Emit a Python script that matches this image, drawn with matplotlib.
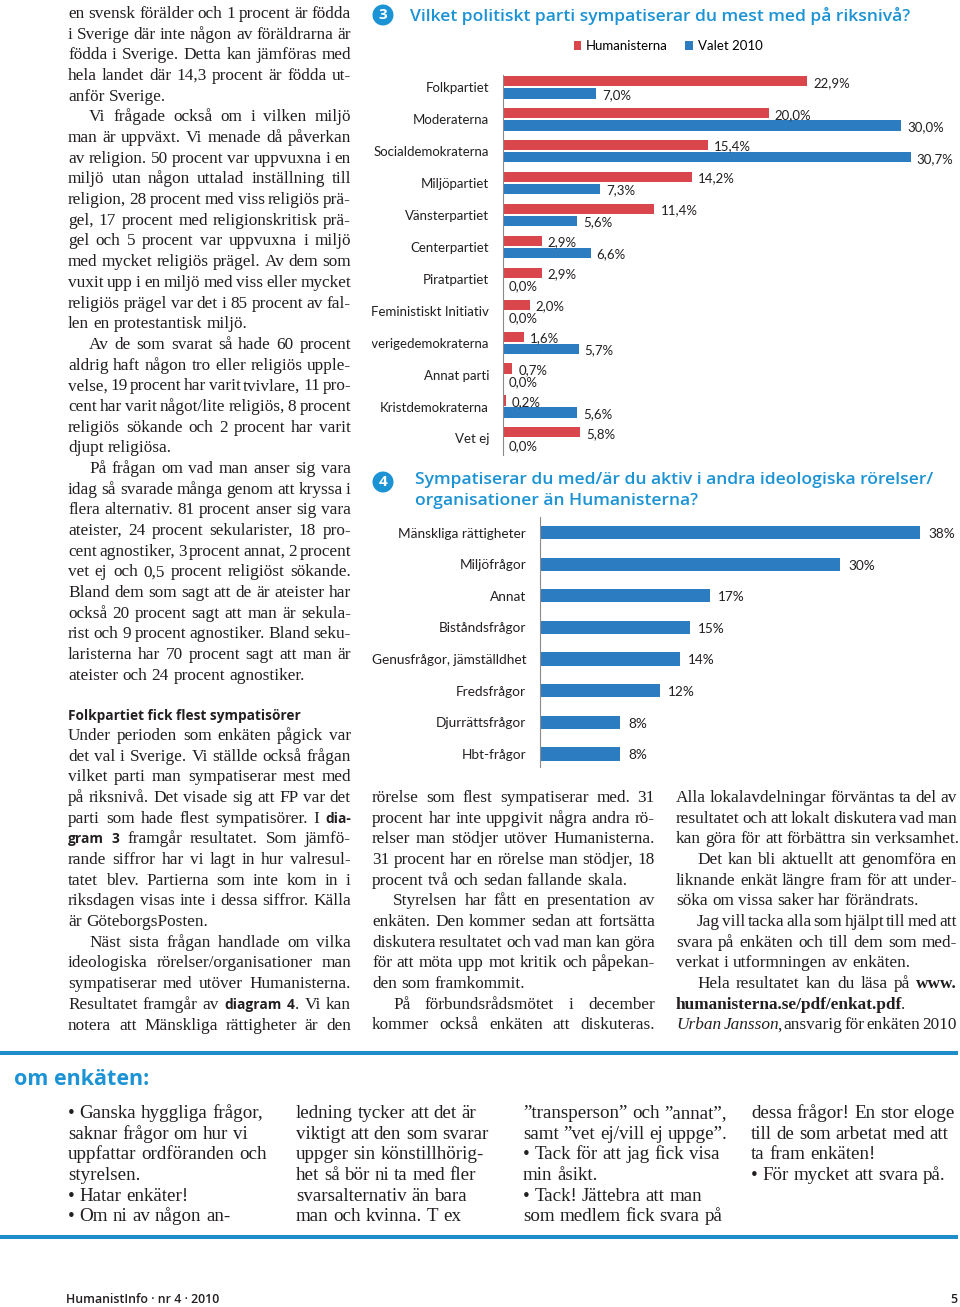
import re
import numpy as np
import matplotlib
matplotlib.use("Agg")
import matplotlib.pyplot as plt
from matplotlib.transforms import IdentityTransform, Bbox, TransformedBbox
from matplotlib.patches import Circle, Rectangle

# ---------------- data ----------------
parties = ["Folkpartiet", "Moderaterna", "Socialdemokraterna", "Miljöpartiet",
           "Vänsterpartiet", "Centerpartiet", "Piratpartiet", "Feministiskt Initiativ",
           "Sverigedemokraterna", "Annat parti", "Kristdemokraterna", "Vet ej"]
humanisterna = [22.9, 20.0, 15.4, 14.2, 11.4, 2.9, 2.9, 2.0, 1.6, 0.7, 0.2, 5.8]
valet_2010 = [7.0, 30.0, 30.7, 7.3, 5.6, 6.6, 0.0, 0.0, 5.7, 0.0, 5.6, 0.0]
series_names = ["Humanisterna", "Valet 2010"]

movements = ["Mänskliga rättigheter", "Miljöfrågor", "Annat", "Biståndsfrågor",
             "Genusfrågor, jämställdhet", "Fredsfrågor", "Djurrättsfrågor", "Hbt-frågor"]
movement_pct = [38, 30, 17, 15, 14, 12, 8, 8]

title3 = "Vilket politiskt parti sympatiserar du mest med på riksnivå?"
title4 = ["Sympatiserar du med/är du aktiv i andra ideologiska rörelser/",
          "organisationer än Humanisterna?"]

# body text: ">" = indented first line, "|" = last line of paragraph
col_left_1 = [
    "en svensk förälder och 1 procent är födda",
    "i Sverige där inte någon av föräldrarna är",
    "födda i Sverige. Detta kan jämföras med",
    "hela landet där 14,3 procent är födda ut-",
    "anför Sverige.|",
    ">Vi frågade också om i vilken miljö",
    "man är uppväxt. Vi menade då påverkan",
    "av religion. 50 procent var uppvuxna i en",
    "miljö utan någon uttalad inställning till",
    "religion, 28 procent med viss religiös prä-",
    "gel, 17 procent med religionskritisk prä-",
    "gel och 5 procent var uppvuxna i miljö",
    "med mycket religiös prägel. Av dem som",
    "vuxit upp i en miljö med viss eller mycket",
    "religiös prägel var det i 85 procent av fal-",
    "len en protestantisk miljö.|",
    ">Av de som svarat så hade 60 procent",
    "aldrig haft någon tro eller religiös upple-",
    "velse, 19 procent har varit tvivlare, 11 pro-",
    "cent har varit något/lite religiös, 8 procent",
    "religiös sökande och 2 procent har varit",
    "djupt religiösa.|",
    ">På frågan om vad man anser sig vara",
    "idag så svarade många genom att kryssa i",
    "flera alternativ. 81 procent anser sig vara",
    "ateister, 24 procent sekularister, 18 pro-",
    "cent agnostiker, 3 procent annat, 2 procent",
    "vet ej och 0,5 procent religiöst sökande.",
    "Bland dem som sagt att de är ateister har",
    "också 20 procent sagt att man är sekula-",
    "rist och 9 procent agnostiker. Bland seku-",
    "laristerna har 70 procent sagt att man är",
    "ateister och 24 procent agnostiker.|",
]
subhead = "Folkpartiet fick flest sympatisörer"
col_left_2 = [
    "Under perioden som enkäten pågick var",
    "det val i Sverige. Vi ställde också frågan",
    "vilket parti man sympatiserar mest med",
    "på riksnivå. Det visade sig att FP var det",
    "parti som hade flest sympatisörer. I **dia-**",
    "**gram** **3** framgår resultatet. Som jämfö-",
    "rande siffror har vi lagt in hur valresul-",
    "tatet blev. Partierna som inte kom in i",
    "riksdagen visas inte i dessa siffror. Källa",
    "är GöteborgsPosten.|",
    ">Näst sista frågan handlade om vilka",
    "ideologiska rörelser/organisationer man",
    "sympatiserar med utöver Humanisterna.",
    "Resultatet framgår av **diagram** **4**. Vi kan",
    "notera att Mänskliga rättigheter är den",
]
col_mid = [
    "rörelse som flest sympatiserar med. 31",
    "procent har inte uppgivit några andra rö-",
    "relser man stödjer utöver Humanisterna.",
    "31 procent har en rörelse man stödjer, 18",
    "procent två och sedan fallande skala.|",
    ">Styrelsen har fått en presentation av",
    "enkäten. Den kommer sedan att fortsätta",
    "diskutera resultatet och vad man kan göra",
    "för att möta upp mot kritik och påpekan-",
    "den som framkommit.|",
    ">På förbundsrådsmötet i december",
    "kommer också enkäten att diskuteras.",
]
col_right = [
    "Alla lokalavdelningar förväntas ta del av",
    "resultatet och att lokalt diskutera vad man",
    "kan göra för att förbättra sin verksamhet.|",
    ">Det kan bli aktuellt att genomföra en",
    "liknande enkät längre fram för att under-",
    "söka om vissa saker har förändrats.|",
    ">Jag vill tacka alla som hjälpt till med att",
    "svara på enkäten och till dem som med-",
    "verkat i utformningen av enkäten.|",
    ">Hela resultatet kan du läsa på ##www.##",
    "##humanisterna.se/pdf/enkat.pdf##.|",
    "__Urban__ __Jansson__, ansvarig för enkäten 2010",
]
box_heading = "om enkäten:"
box_cols = [
    ["• Ganska hyggliga frågor,", "saknar frågor om hur vi", "uppfattar ordföranden och",
     "styrelsen.", "• Hatar enkäter!", "• Om ni av någon an-"],
    ["ledning tycker att det är", "viktigt att den som svarar", "uppger sin könstillhörig-",
     "het så bör ni ta med fler", "svarsalternativ än bara", "man och kvinna. T ex"],
    ["\u201dtransperson\u201d och \u201dannat\u201d,", "samt \u201dvet ej/vill ej uppge\u201d.",
     "• Tack för att jag fick visa", "min åsikt.", "• Tack! Jättebra att man",
     "som medlem fick svara på"],
    ["dessa frågor! En stor eloge", "till de som arbetat med att", "ta fram enkäten!",
     "• För mycket att svara på."],
]
footer_left = "HumanistInfo · nr 4 · 2010"
footer_right = "5"

# ---------------- style ----------------
W, H = 960, 1307
BLUE = "#2b7cc1"
RED = "#d9474c"
TITLE_BLUE = "#1b93d4"
RULE = "#1f8dcc"
INK = "#231f20"
SERIF = "Liberation Serif"
SANS = "Lato"
HEAD = "Open Sans"
BODY_SIZE = 12.4
LABEL_SIZE = 9.5

fig = plt.figure(figsize=(W / 100, H / 100), dpi=100)
fig.patch.set_facecolor("white")
renderer = fig.canvas.get_renderer()
ID = IdentityTransform()


def px_rect(x0, y0, x1, y1):
    return [x0 / W, 1 - y1 / H, (x1 - x0) / W, (y1 - y0) / H]


STYLES = {
    "r": dict(family=SERIF, size=BODY_SIZE),
    "b": dict(family=HEAD, size=9.9, weight="bold"),
    "B": dict(family=SERIF, size=BODY_SIZE, weight="bold"),
    "i": dict(family=SERIF, size=BODY_SIZE, style="italic"),
}
JOIN_TRIM = {"r": 0.0, "b": -0.5, "B": 1.0, "i": 2.0}
TOKEN = re.compile(r"\*\*(.+?)\*\*|##(.+?)##|__(.+?)__|([^*#_]+)")


def segments(word):
    out = []
    for m in TOKEN.finditer(word):
        if m.group(1):
            out.append((m.group(1), "b"))
        elif m.group(2):
            out.append((m.group(2), "B"))
        elif m.group(3):
            out.append((m.group(3), "i"))
        else:
            out.append((m.group(4), "r"))
    return out


def twidth(t):
    return t.get_window_extent(renderer).width


def space_width(size, family=SERIF):
    a = fig.text(0, 0, "n n", transform=ID, family=family, size=size)
    b = fig.text(0, 0, "nn", transform=ID, family=family, size=size)
    w = twidth(a) - twidth(b)
    a.remove(); b.remove()
    return w


def draw_line(line, x0, x1, ybase, justify, size=BODY_SIZE, family=SERIF, color=INK):
    words = line.split()
    items = []
    for w in words:
        arts, ws = [], []
        segs = segments(w)
        for j, (s, k) in enumerate(segs):
            st = dict(STYLES[k])
            if k != "b":
                st["size"] = size
                st["family"] = family
            a = fig.text(0, H - ybase, s, transform=ID, va="baseline", ha="left",
                         color=color, **st)
            arts.append(a)
            wd = twidth(a)
            if j < len(segs) - 1:
                wd -= JOIN_TRIM[k]
            ws.append(wd)
        items.append((arts, ws))
    natural = space_width(size, family)
    total = sum(sum(ws) for _, ws in items)
    if justify and len(items) > 1:
        gap = (x1 - x0 - total) / (len(items) - 1)
    else:
        gap = natural
    x = x0
    for arts, ws in items:
        for a, w in zip(arts, ws):
            a.set_position((x, H - ybase))
            x += w
        x += gap


def draw_column(lines, x0, x1, ytop, step=20.68, indent=21, justify=True, size=BODY_SIZE):
    for i, raw in enumerate(lines):
        s = raw
        ind = 0
        if s.startswith(">"):
            s = s[1:]
            ind = indent
        end = s.endswith("|")
        if end:
            s = s[:-1]
        draw_line(s, x0 + ind, x1, ytop + i * step, justify and not end, size=size)


# ---------------- body text ----------------
draw_column(col_left_1, 68, 351, 18)
fig.text(68, H - 720, subhead, transform=ID, family=HEAD, weight="bold", size=9.8,
         color=INK, va="baseline")
draw_column(col_left_2, 68, 351, 740)
draw_column(col_mid, 372, 655, 802)
draw_column(col_right, 676, 957, 802)

# ---------------- chart 3 ----------------
for cx, cy, num in [(383, 15, "3"), (383, 482, "4")]:
    fig.add_artist(Circle((cx, H - cy), 10.5, transform=ID, facecolor=TITLE_BLUE,
                          edgecolor="none"))
    fig.text(cx, H - cy, num, transform=ID, ha="center", va="center", color="white",
             family=HEAD, weight="bold", size=11)
fig.text(410, H - 21, title3, transform=ID, family=HEAD, weight="semibold",
         size=12.6, color=TITLE_BLUE, va="baseline")

ax3 = fig.add_axes(px_rect(503, 75, 503 + 13.28 * 32, 455))
y = np.arange(len(parties))
off, bh = 0.19, 0.32
b1 = ax3.barh(y - off, humanisterna, height=bh, color=RED, label=series_names[0])
b2 = ax3.barh(y + off, valet_2010, height=bh, color=BLUE, label=series_names[1])
ax3.set_xlim(0, 32)
ax3.set_ylim(11.52, -0.39)
ax3.set_xticks([])
ax3.set_yticks(y, parties)
ax3.tick_params(axis="y", length=0, pad=10, labelsize=LABEL_SIZE, labelcolor=INK)
for lab in ax3.get_yticklabels():
    lab.set_family(SANS)
for sp in ["top", "right", "bottom"]:
    ax3.spines[sp].set_visible(False)
ax3.spines["left"].set_color("#8c8c8c")
ax3.spines["left"].set_linewidth(0.8)
ax3.patch.set_alpha(0)
for vals, dy in [(humanisterna, -off), (valet_2010, off)]:
    for i, v in enumerate(vals):
        ax3.annotate(f"{v:.1f}%".replace(".", ","), (v, i + dy), xytext=(4.3, -1),
                     textcoords="offset points", va="center", ha="left",
                     family=SANS, size=LABEL_SIZE, color=INK, annotation_clip=False)
clip = TransformedBbox(Bbox.from_extents(372 / W, 0, 1, 1), fig.transFigure)
for lab in ax3.get_yticklabels():
    lab.set_clip_box(clip)
    lab.set_clip_on(True)
fig.legend(handles=[b1, b2], labels=series_names, loc="center",
           bbox_to_anchor=(668 / W, 1 - 46 / H), bbox_transform=fig.transFigure,
           ncol=2, frameon=False, handlelength=0.6, handleheight=0.6,
           handletextpad=0.35, columnspacing=1.3, prop=dict(family=SANS, size=LABEL_SIZE))

# ---------------- chart 4 ----------------
for i, t in enumerate(title4):
    fig.text(415, H - (484 + i * 21), t, transform=ID, family=HEAD, weight="semibold",
             size=12.6, color=TITLE_BLUE, va="baseline")
ax4 = fig.add_axes(px_rect(540, 517, 940, 767))
y4 = np.arange(len(movements))
ax4.barh(y4, movement_pct, height=0.42, color=BLUE)
ax4.set_xlim(0, 40)
ax4.set_ylim(7.41, -0.49)
ax4.set_xticks([])
ax4.set_yticks(y4, movements)
ax4.tick_params(axis="y", length=0, pad=10, labelsize=LABEL_SIZE + 0.3, labelcolor=INK)
for lab in ax4.get_yticklabels():
    lab.set_family(SANS)
for sp in ["top", "right", "bottom"]:
    ax4.spines[sp].set_visible(False)
ax4.spines["left"].set_color("#8c8c8c")
ax4.spines["left"].set_linewidth(0.8)
ax4.patch.set_alpha(0)
for i, v in enumerate(movement_pct):
    ax4.annotate(f"{v}%", (v, i), xytext=(5.8, -1), textcoords="offset points",
                 va="center", ha="left", family=SANS, size=LABEL_SIZE + 0.3, color=INK)

# ---------------- bottom box ----------------
for yy in (1053, 1237):
    fig.add_artist(Rectangle((0, H - yy - 2), 958, 4, transform=ID, facecolor=RULE,
                             edgecolor="none"))
fig.text(14, H - 1085, box_heading, transform=ID, family=HEAD, weight="bold",
         size=15.5, color=TITLE_BLUE, va="baseline")
for cx, lines in zip([68, 296, 523, 751], box_cols):
    draw_column(lines, cx, cx + 220, 1118, justify=False, size=13.7)

fig.text(66, H - 1303, footer_left, transform=ID, family=HEAD, weight="semibold",
         size=8.9, color=INK, va="baseline")
fig.text(957, H - 1303, footer_right, transform=ID, family=HEAD, weight="semibold",
         size=8.9, color=INK, va="baseline", ha="right")

fig.savefig("out.png", dpi=100, facecolor="white")
